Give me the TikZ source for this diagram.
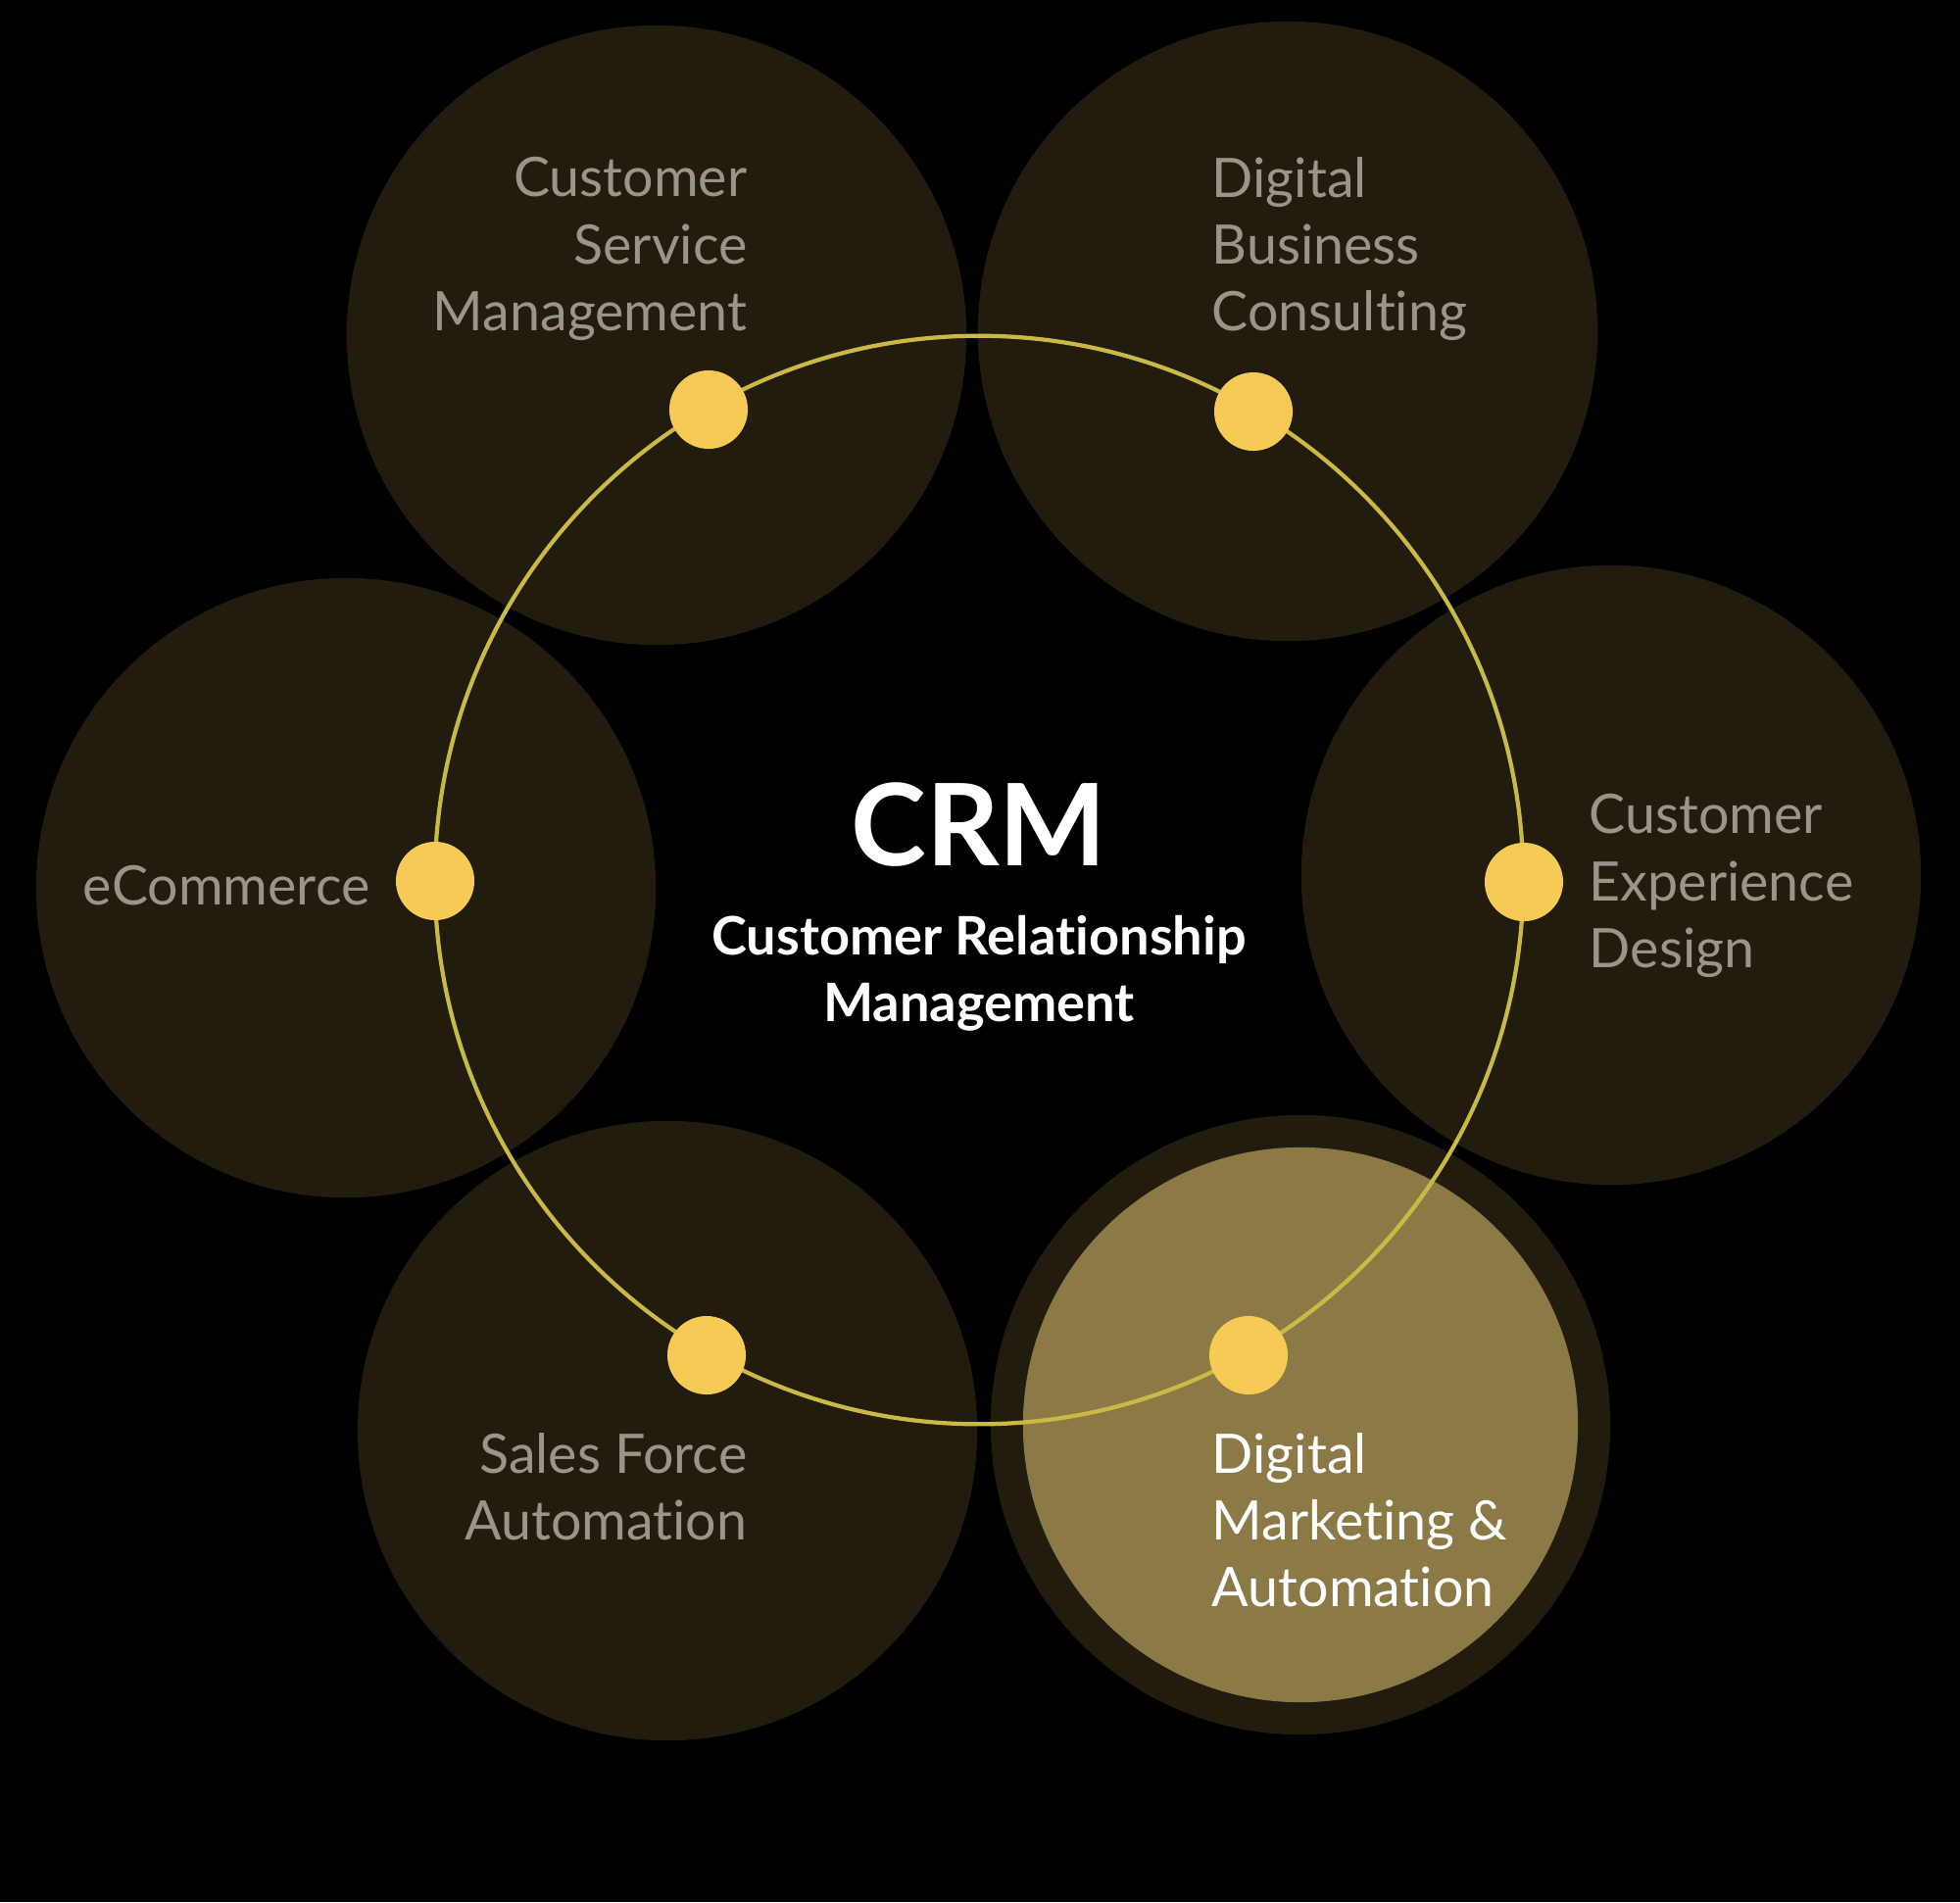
\documentclass[tikz,border=0pt]{standalone}
\usepackage{fontspec}
\setmainfont{Lato}[Ligatures=NoCommon]
\usepackage{tikz}
\usetikzlibrary{positioning}
\definecolor{bubblefill}{HTML}{221C0F}
\definecolor{focusfill}{HTML}{8B7A45}
\definecolor{ringline}{HTML}{C9BA45}
\definecolor{dotfill}{HTML}{F5CA55}
\definecolor{itemgray}{HTML}{9A958C}

\begin{document}
\begin{tikzpicture}[
    x=0.01cm, y=-0.01cm,
    bubble/.style={circle, fill=bubblefill, minimum size=6.32cm, inner sep=0pt},
    focus/.style={circle, fill=focusfill, minimum size=5.66cm, inner sep=0pt},
    hub/.style={circle, fill=dotfill, minimum size=0.8cm, inner sep=0pt},
    itemtext/.style={text=itemgray, inner sep=0pt, font=\fontsize{15.8}{19.4}\selectfont},
    ring/.style={draw=ringline, line width=1.2pt}
]
\fill[black] (0,0) rectangle (2000,1941);
\useasboundingbox (0,0) rectangle (2000,1941);

% the six areas
\node[bubble] (b1) at (670,342) {};
\node[bubble] (b2) at (1314,338) {};
\node[bubble] (b3) at (1644,893) {};
\node[bubble] (b4) at (1327,1454) {};
\node[bubble] (b5) at (681,1460) {};
\node[bubble] (b6) at (353,906) {};
\node[focus] (b4in) at (1327,1454) {};

% ring and hubs
\coordinate (ctr) at (999,898);
\draw[ring] (ctr) circle[radius=5.55cm];
\node[hub] (h1) at (723,418) {};
\node[hub] (h2) at (1279,420) {};
\node[hub] (h3) at (1555,900) {};
\node[hub] (h4) at (1274,1383) {};
\node[hub] (h5) at (721,1383) {};
\node[hub] (h6) at (444,899) {};

% texts
\node[itemtext, anchor=east, align=right] (t1) at (763,254) {Customer\\Service\\Management};
\node[itemtext, anchor=west, align=left] (t2) at (1236,254) {Digital\\Business\\Consulting};
\node[itemtext, anchor=west, align=left] (t3) at (1621,904) {Customer\\Experience\\Design};
\node[itemtext, anchor=west, align=left, text=white] (t4) at (1236,1551) {Digital\\Marketing \&\\Automation};
\node[itemtext, anchor=east, align=right] (t5) at (763,1517) {Sales Force\\Automation};
\node[itemtext, anchor=east] (t6) at (378,904) {eCommerce};

\node[text=white, font=\fontsize{33}{36}\selectfont\bfseries, inner sep=0pt] (crm) at (999,842) {CRM};
\node[text=white, font=\fontsize{15.4}{19.4}\selectfont\bfseries, align=center, inner sep=0pt] (sub) at (999,993) {Customer Relationship\\Management};
\end{tikzpicture}
\end{document}
